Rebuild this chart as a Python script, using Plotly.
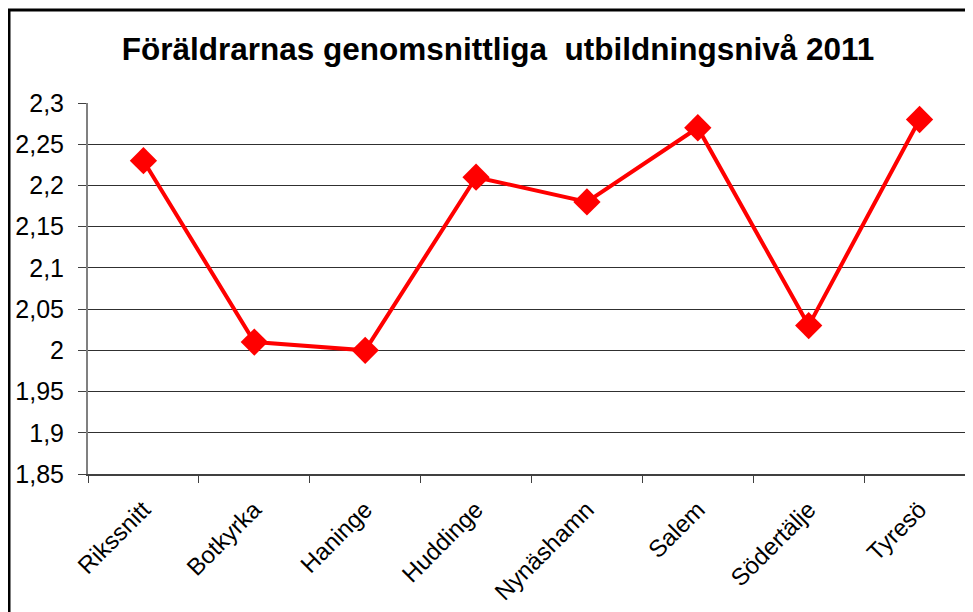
import plotly.graph_objects as go

categories = ["Rikssnitt", "Botkyrka", "Haninge", "Huddinge", "Nynäshamn", "Salem", "Södertälje", "Tyresö"]
values = [2.23, 2.01, 2.00, 2.21, 2.18, 2.27, 2.03, 2.28]
y_ticks = [1.85, 1.9, 1.95, 2.0, 2.05, 2.1, 2.15, 2.2, 2.25, 2.3]
y_tick_labels = ["1,85", "1,9", "1,95", "2", "2,05", "2,1", "2,15", "2,2", "2,25", "2,3"]
title_text = "Föräldrarnas genomsnittliga\u00a0 utbildningsnivå 2011"

FONT = "Liberation Sans, Arial, sans-serif"
OFF = 8  # default page body margin

fig = go.Figure()
fig.add_trace(go.Scatter(
    x=categories, y=values, mode="lines+markers",
    line=dict(color="#FF0000", width=4),
    marker=dict(symbol="diamond", size=21, color="#FF0000"),
    cliponaxis=False,
))

fig.update_layout(
    width=973, height=612,
    margin=dict(l=88 - OFF, r=6, t=103 - OFF, b=146),
    paper_bgcolor="white", plot_bgcolor="white",
    showlegend=False,
    font=dict(family=FONT, color="black"),
    title=dict(text="<b>" + title_text + "</b>", x=(498 - 88) / 887, xref="paper",
               xanchor="center",
               y=1 - (49 - OFF) / 612, yref="container", yanchor="middle",
               font=dict(family=FONT, size=31.5, color="black")),
)

fig.update_xaxes(
    type="category", range=[-0.5, 7.5],
    showgrid=False, showline=True, linecolor="#404040", linewidth=2,
    ticks="outside", ticklen=7, tickcolor="#404040", tickwidth=1,
    tickson="boundaries", tickangle=-45, ticklabelstandoff=10,
    tickfont=dict(family=FONT, size=24, color="black"),
)
fig.update_yaxes(
    range=[1.85, 2.3], tickvals=y_ticks, ticktext=y_tick_labels,
    showgrid=True, gridcolor="#303030", gridwidth=1,
    showline=True, linecolor="#808080", linewidth=2,
    ticks="outside", ticklen=8, tickcolor="#404040", tickwidth=1,
    ticklabelstandoff=9,
    tickfont=dict(family=FONT, size=25, color="black"),
    zeroline=False,
)

fig.add_shape(type="rect", xref="paper", yref="paper",
              x0=(9 - 88) / 887, x1=1.05, y0=-0.5, y1=1 + (103 - 10) / 371,
              line=dict(color="black", width=3), fillcolor="rgba(0,0,0,0)",
              layer="below")

fig.write_html("out.html")
